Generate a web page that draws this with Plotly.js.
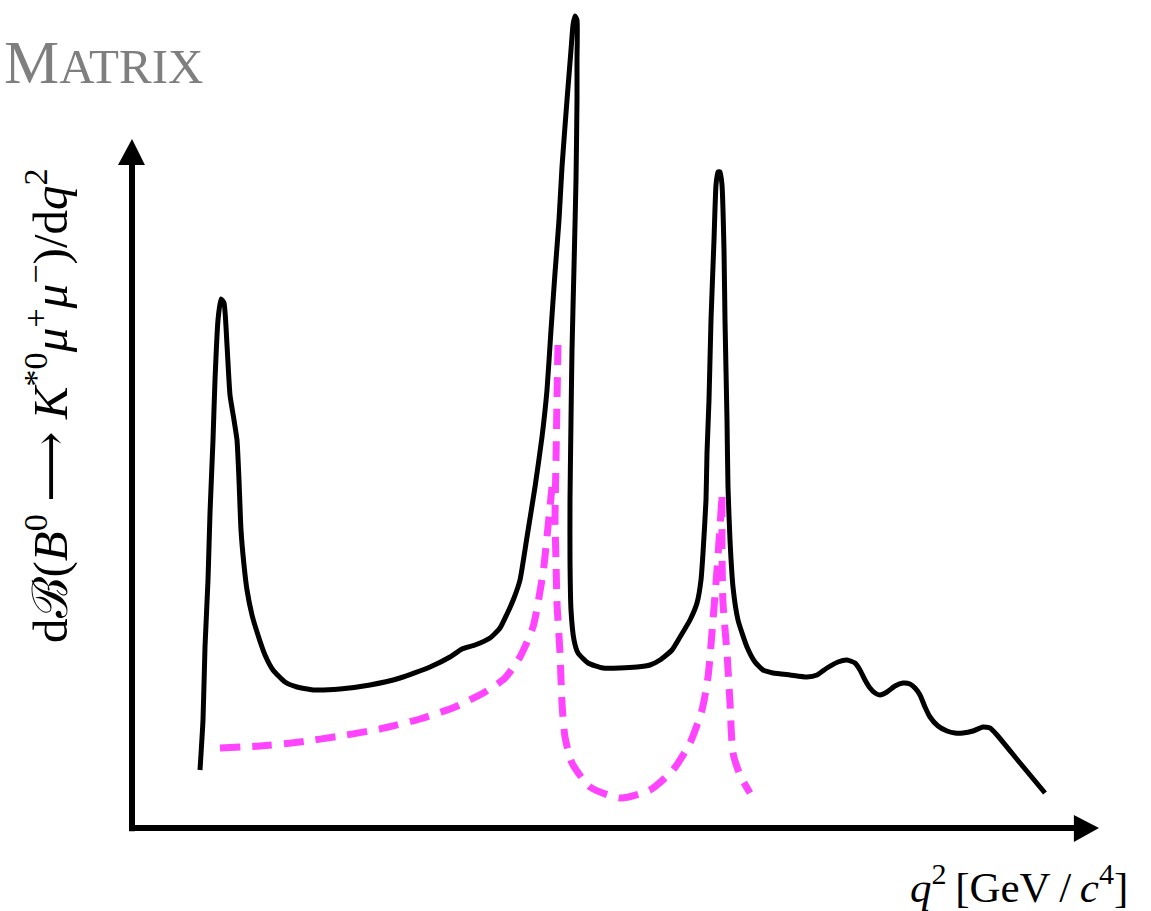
<!DOCTYPE html>
<html>
<head>
<meta charset="utf-8">
<script src="https://cdn.plot.ly/plotly-3.0.1.min.js"></script>
<style>html,body{margin:0;padding:0;background:#fff;}#chart{width:1151px;height:911px;}</style>
</head>
<body>
<div id="chart"></div>
<script>
// Schematic spectrum (arbitrary units)
const totalQ2 = [6.8,7.1,7.3,7.6,7.8,8.1,8.3,8.6,8.9,9.2,9.5,9.8,10.2,10.5,10.7,10.9,11.2,11.5,12.0,12.5,13.3,14.1,15.3,16.5,18.3,20.8,23.8,26.8,29.8,31.8,33.0,34.3,35.8,36.8,37.5,38.2,38.8,39.5,40.3,41.0,41.5,41.9,42.3,42.7,43.0,43.5,43.9,44.1,44.3,44.5,44.5,44.5,44.4,44.2,44.0,43.9,43.8,43.8,43.9,44.2,44.6,45.6,47.1,48.8,50.5,51.8,52.8,54.0,54.8,55.8,56.5,56.9,57.1,57.4,57.5,57.7,57.9,58.2,58.4,58.6,58.8,59.0,59.2,59.3,59.5,59.6,59.8,60.1,60.6,61.5,62.3,63.1,64.1,65.8,67.5,68.5,69.5,70.6,71.5,72.3,72.8,73.3,73.8,74.3,74.8,75.5,76.3,77.1,77.8,78.3,78.8,79.3,79.8,80.6,81.5,82.3,83.1,84.1,85.1,85.8,86.5,88.8,91.3];
const totalRate = [5.8,10.8,18.1,24.8,31.5,38.8,44.8,50.8,52.9,52.5,48.3,43.3,40.8,38.8,34.8,29.8,26.3,23.8,21.3,19.6,17.3,15.8,14.6,14.1,13.8,13.9,14.3,15.0,16.1,17.1,17.9,18.3,19.0,20.0,21.4,23.0,24.8,29.1,34.1,39.1,43.8,49.8,55.5,60.8,66.1,72.8,77.8,80.3,81.2,80.8,76.8,72.8,64.8,56.1,47.8,40.8,32.8,26.8,21.8,18.8,17.5,16.5,16.0,16.0,16.1,16.3,16.8,17.8,19.1,20.8,22.5,24.8,27.5,32.8,37.5,42.8,50.8,58.8,64.3,65.6,65.6,64.3,57.8,50.8,40.8,34.1,28.8,24.1,20.8,18.1,16.6,15.8,15.5,15.3,15.1,15.3,16.0,16.6,16.8,16.5,15.8,14.8,14.0,13.5,13.3,13.6,14.2,14.5,14.4,14.0,13.3,12.1,11.1,10.2,9.7,9.5,9.5,9.7,10.1,10.0,9.3,6.5,3.5];

const leftQ2  = [8.8,12.8,16.8,20.8,24.8,28.8,32.3,35.3,37.3,38.8,40.1,41.1,41.6,42.0];
const leftRate = [8.0,8.2,8.6,9.2,9.9,10.9,12.1,13.6,15.0,17.1,20.1,25.5,30.1,34.1];

const midQ2  = [42.6,42.5,42.4,42.3,42.4,42.5,42.8,43.0,43.3,44.0,45.8,48.8,51.8,54.1,55.8,57.0,57.6,58.1,58.5,59.0];
const midRate = [48.3,42.8,36.8,30.8,26.8,22.5,17.5,12.5,9.1,6.5,4.1,3.0,3.8,5.8,8.5,11.8,15.1,20.8,25.8,33.1];

const rightQ2  = [59.0,59.0,59.1,59.5,59.8,60.1,60.8,61.8];
const rightRate = [33.1,27.5,22.5,17.5,12.5,7.5,5.3,3.5];

const brand = "Matrix";
const yTitle = "dℬ(<i>B</i><sup>0</sup> ⟶ <i>K</i><sup>*0</sup><i>μ</i><sup>+</sup><i>μ</i><sup>−</sup>)/d<i>q</i><sup>2</sup>";
const xTitle = "<i>q</i><sup>2</sup>\u2009[GeV\u2009/\u2009<i>c</i><sup>4</sup>]";

const magenta = '#ff44ff';
const dashLine = {color: magenta, width: 7, dash: '20px,12px'};

const traces = [
  {x: leftQ2, y: leftRate, mode: 'lines', line: Object.assign({shape: 'spline', smoothing: 0.6}, dashLine)},
  {x: midQ2, y: midRate, mode: 'lines', line: Object.assign({shape: 'spline', smoothing: 0.6}, dashLine)},
  {x: rightQ2, y: rightRate, mode: 'lines', line: Object.assign({shape: 'spline', smoothing: 0.6}, dashLine)},
  {x: totalQ2, y: totalRate, mode: 'lines', line: {color: '#000', width: 5, shape: 'spline', smoothing: 0.5}}
];

const serif = 'Liberation Serif, DejaVu Serif, serif';
const layout = {
  width: 1151, height: 911,
  margin: {l: 132, r: 52, t: 10, b: 83},
  paper_bgcolor: '#fff', plot_bgcolor: '#fff',
  showlegend: false, hovermode: false,
  xaxis: {range: [0, 96.7], showgrid: false, zeroline: false, showticklabels: false, showline: false, ticks: ''},
  yaxis: {range: [0, 81.8], showgrid: false, zeroline: false, showticklabels: false, showline: false, ticks: ''},
  shapes: [
    {type: 'line', xref: 'paper', yref: 'paper', x0: -0.003, x1: 0.975, y0: 0, y1: 0, line: {color: '#000', width: 6}},
    {type: 'path', xref: 'paper', yref: 'paper', path: 'M 1.0 0 L 0.974 0.0159 L 0.974 -0.0171 Z', fillcolor: '#000', line: {color: '#000', width: 0}},
    {type: 'line', xref: 'paper', yref: 'paper', x0: 0, x1: 0, y0: -0.004, y1: 0.812, line: {color: '#000', width: 6}},
    {type: 'path', xref: 'paper', yref: 'paper', path: 'M 0 0.8423 L -0.0145 0.8105 L 0.0134 0.8105 Z', fillcolor: '#000', line: {color: '#000', width: 0}}
  ],
  annotations: [
    {xref: 'paper', yref: 'paper', x: -0.1344, y: 0.893, xanchor: 'left', yanchor: 'bottom', showarrow: false,
     text: '<span style="font-size:62px">' + brand[0].toUpperCase() + '</span>' + brand.slice(1).toUpperCase(),
     font: {family: serif, size: 49, color: '#7f7f7f'}},
    {xref: 'paper', yref: 'paper', x: -0.088, y: 0.517, xanchor: 'center', yanchor: 'middle', showarrow: false, textangle: -90,
     text: yTitle, font: {family: serif, size: 49, color: '#000'}},
    {xref: 'paper', yref: 'paper', x: 1.032, y: -0.0685, xanchor: 'right', yanchor: 'middle', showarrow: false,
     text: xTitle, font: {family: serif, size: 43, color: '#000'}}
  ]
};

Plotly.newPlot('chart', traces, layout, {displayModeBar: false, staticPlot: true});
</script>
</body>
</html>
